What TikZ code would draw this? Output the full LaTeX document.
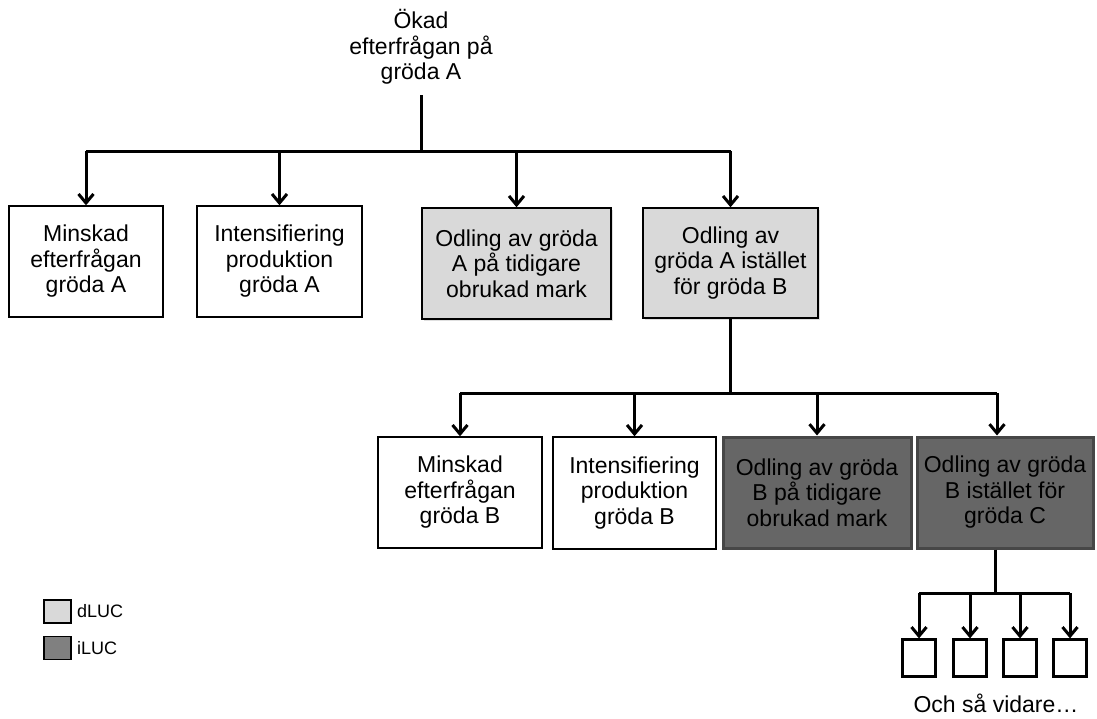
\documentclass[tikz,border=0pt]{standalone}
\usepackage{fontspec}
\setmainfont{Liberation Sans}
\usetikzlibrary{arrows.meta,shadows}
\newcommand{\boxfont}{\fontsize{23}{25.5}\selectfont}
\newcommand{\keyfont}{\fontsize{18}{20}\selectfont}

\begin{document}
\begin{tikzpicture}[x=1pt,y=-1pt,
	plain/.style={draw=black,line width=1.4pt,fill=white,align=center,
		inner sep=0pt,font=\boxfont},
	dluc/.style={plain,fill=black!15,
		drop shadow={opacity=0.25,shadow xshift=2pt,shadow yshift=-2pt}},
	iluc/.style={plain,fill=black!60,draw=black!72,line width=3pt,
		drop shadow={opacity=0.3,shadow xshift=1.5pt,shadow yshift=-1.5pt}},
	small/.style={draw=black,line width=2.2pt,minimum width=33pt,minimum height=37pt,inner sep=0pt},
	bar/.style={line width=3pt},
	arr/.style={line width=3pt,-{Straight Barb[length=9pt,width=15pt]}}]
	\useasboundingbox (0,0) rectangle (1097,718);
	% top cause
	\node[align=center,font=\boxfont] (demand) at (421,47) {Ökad\\efterfrågan på\\gröda A};
	\coordinate (top) at (421,95);
	\coordinate (bus1) at (421,151);
	% first level
	\node[plain,minimum width=154pt,minimum height=111pt] (demA) at (86,261.5) {Minskad\\efterfrågan\\gröda A};
	\node[plain,minimum width=165pt,minimum height=111pt] (intA) at (279.5,261.5) {Intensifiering\\produktion\\gröda A};
	\node[dluc,minimum width=189pt,minimum height=111pt] (newA) at (516.5,263.5) {Odling av gröda\\A på tidigare\\obrukad mark};
	\node[dluc,minimum width=175pt,minimum height=110pt] (swapA) at (730.5,263) {Odling av\\gröda A istället\\för gröda B};
	\draw[bar] (top) -- (bus1);
	\draw[bar] (demA.north |- bus1) -- (swapA.north |- bus1);
	\foreach \n in {demA,intA,newA,swapA}
		\draw[arr] (\n.north |- bus1) -- (\n.north);
	% second level
	\coordinate (bus2) at (730.5,393);
	\node[plain,minimum width=164pt,minimum height=111pt] (demB) at (460,492.5) {Minskad\\efterfrågan\\gröda B};
	\node[plain,minimum width=163pt,minimum height=112pt] (intB) at (634.5,493) {Intensifiering\\produktion\\gröda B};
	\node[iluc,minimum width=188pt,minimum height=111pt] (newB) at (817,492.5) {Odling av gröda\\B på tidigare\\obrukad mark};
	\node[iluc,minimum width=176pt,minimum height=111pt] (swapB) at (1005,492.5) {Odling av gröda\\B istället för\\gröda C};
	\coordinate (inB) at ([xshift=-8pt]swapB.north);
	\draw[bar] (swapA.south) -- (bus2);
	\draw[bar] (demB.north |- bus2) -- (inB |- bus2);
	\foreach \n in {demB,intB,newB}
		\draw[arr] (\n.north |- bus2) -- (\n.north);
	\draw[arr] (inB |- bus2) -- (inB);
	% and so on
	\coordinate (outB) at ([xshift=-10pt]swapB.south);
	\coordinate (bus3) at (995,593);
	\foreach \i/\x in {1/919,2/970,3/1020,4/1070}
		\node[small] (more\i) at (\x,658) {};
	\draw[bar] (outB) -- (bus3);
	\draw[bar] (more1.north |- bus3) -- (more4.north |- bus3);
	\foreach \i in {1,...,4}
		\draw[arr] (more\i.north |- bus3) -- (more\i.north);
	\node[font=\boxfont] (etc) at (996,703) {Och så vidare…};
	% legend
	\node[draw=black,line width=1.5pt,fill=black!15,minimum width=27pt,minimum height=23pt,inner sep=0pt] (keyd) at (57.5,611.5) {};
	\node[draw=black,line width=1.5pt,fill=black!50,minimum width=27pt,minimum height=23pt,inner sep=0pt] (keyi) at (57.5,648) {};
	\node[right,font=\keyfont,inner sep=0pt] (keydtxt) at (77,611.5) {dLUC};
	\node[right,font=\keyfont,inner sep=0pt] (keyitxt) at (77,648) {iLUC};
\end{tikzpicture}
\end{document}
